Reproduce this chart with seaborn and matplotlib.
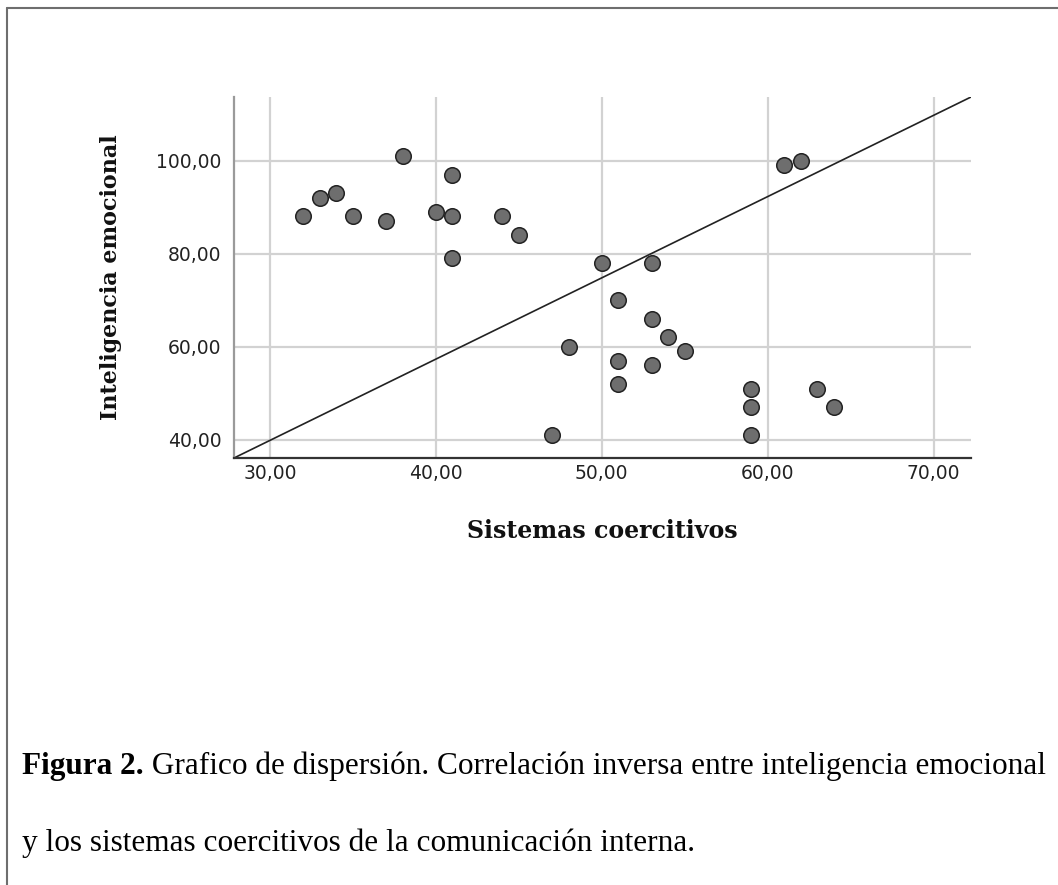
import matplotlib
matplotlib.use("Agg")
import matplotlib.pyplot as plt
import seaborn as sns
import pandas as pd
from matplotlib.ticker import FuncFormatter, FixedLocator
from matplotlib.lines import Line2D

# Data
sistemas_coercitivos = [32, 33, 34, 35, 37, 38, 40, 41, 41, 41, 44, 45,
                        61, 62, 50, 53, 51, 53, 54, 55, 48, 51, 53, 51,
                        47, 59, 59, 59, 63, 64]
inteligencia_emocional = [88, 92, 93, 88, 87, 101, 89, 97, 88, 79, 88, 84,
                          99, 100, 78, 78, 70, 66, 62, 59, 60, 57, 56, 52,
                          41, 51, 47, 41, 51, 47]
x_ticks = [30, 40, 50, 60, 70]
y_ticks = [40, 60, 80, 100]
x_label = "Sistemas coercitivos"
y_label = "Inteligencia emocional"
caption_bold = "Figura 2."
caption_line1 = " Grafico de dispersión. Correlación inversa entre inteligencia emocional"
caption_line2 = "y los sistemas coercitivos de la comunicación interna."

df = pd.DataFrame({"x": sistemas_coercitivos, "y": inteligencia_emocional})

sns.set_style("white")
plt.rcParams["font.family"] = ["DejaVu Sans"]

W, H = 1058, 885
fig = plt.figure(figsize=(W / 100, H / 100), dpi=100)
fig.patch.set_facecolor("white")

left, right, top, bottom = 234, 971, 97, 458
ax = fig.add_axes([left / W, 1 - bottom / H, (right - left) / W, (bottom - top) / H])

sns.scatterplot(data=df, x="x", y="y", ax=ax, s=125, color="#6e6e6e",
                edgecolor="#222222", linewidth=1.1, zorder=3, legend=False)

# diagonal reference line, corner to corner
ax.plot([0, 1], [0, 1], transform=ax.transAxes, color="#222222", lw=1.2, zorder=2)

ax.set_xlim(27.83, 72.26)
ax.set_ylim(36.06, 113.7)
ax.xaxis.set_major_locator(FixedLocator(x_ticks))
ax.yaxis.set_major_locator(FixedLocator(y_ticks))
fmt = FuncFormatter(lambda v, p: f"{v:.2f}".replace(".", ","))
ax.xaxis.set_major_formatter(fmt)
ax.yaxis.set_major_formatter(fmt)
ax.grid(True, color="#d2d2d2", lw=1.6, zorder=0)
ax.set_axisbelow(True)
for s in ["top", "right"]:
    ax.spines[s].set_visible(False)
ax.spines["left"].set_color("#9a9a9a")
ax.spines["left"].set_linewidth(1.6)
ax.spines["bottom"].set_color("#333333")
ax.spines["bottom"].set_linewidth(1.6)
ax.tick_params(axis="both", length=0, labelsize=13.5, colors="#222222")
ax.tick_params(axis="y", pad=9)
ax.tick_params(axis="x", pad=4)

ax.set_xlabel(x_label, family="DejaVu Serif", weight="bold", fontsize=17, color="#111111")
ax.set_ylabel(y_label, family="DejaVu Serif", weight="bold", fontsize=16, color="#111111")
ax.xaxis.set_label_coords(0.5, -0.168)
ax.yaxis.set_label_coords(-0.152, 0.5)

# caption
cap_font = "Liberation Serif"
fs = 22.5
renderer = fig.canvas.get_renderer()
t1 = fig.text(22 / W, 1 - 774 / H, caption_bold, family=cap_font, weight="bold",
              fontsize=fs, va="baseline", ha="left", color="black")
bb = t1.get_window_extent(renderer)
fig.text(bb.x1 / W, 1 - 774 / H, caption_line1, family=cap_font, fontsize=fs,
         va="baseline", ha="left", color="black")
fig.text(22 / W, 1 - 851 / H, caption_line2, family=cap_font, fontsize=fs,
         va="baseline", ha="left", color="black")

# frame lines (top and left) of the reference
fig.add_artist(Line2D([6.5 / W, 1], [1 - 7.5 / H, 1 - 7.5 / H], color="#6e6e6e", lw=1.5))
fig.add_artist(Line2D([6.5 / W, 6.5 / W], [0, 1 - 7.5 / H], color="#6e6e6e", lw=1.5))

fig.savefig("out.png", dpi=100)
